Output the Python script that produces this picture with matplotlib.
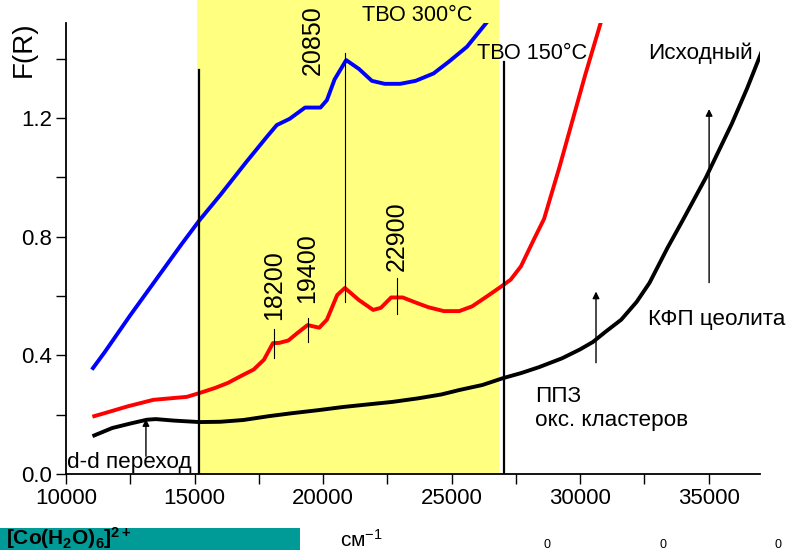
import numpy as np
import matplotlib
matplotlib.use("Agg")
import matplotlib.pyplot as plt
from matplotlib.patches import Rectangle
from matplotlib.ticker import MultipleLocator

plt.rcParams['font.family'] = ['Liberation Sans', 'DejaVu Sans']
plt.rcParams['mathtext.fontset'] = 'custom'
plt.rcParams['mathtext.rm'] = 'Liberation Sans'
plt.rcParams['mathtext.it'] = 'Liberation Sans:italic'
plt.rcParams['mathtext.bf'] = 'Liberation Sans:bold'

# спектры ЭСДО (F(R) от волнового числа, см-1)
x_300 = [11050, 11500, 12500, 13500, 14500, 15200, 16000, 17000, 17800, 18200, 18700,
         19300, 19900, 20150, 20450, 20900, 21400, 21900, 22400, 23000, 23600, 24300,
         24900, 25600, 26350]
y_300 = [0.357, 0.41, 0.535, 0.655, 0.775, 0.856, 0.94, 1.05, 1.135, 1.176, 1.197,
         1.235, 1.235, 1.26, 1.33, 1.395, 1.365, 1.325, 1.315, 1.315, 1.325, 1.35,
         1.39, 1.44, 1.52]

x_150 = [11100, 11500, 12400, 13400, 14700, 15200, 15800, 16300, 16800, 17300, 17700,
         18050, 18300, 18650, 19000, 19400, 19850, 20150, 20550, 20850, 21400, 21950,
         22250, 22650, 23100, 23600, 24100, 24700, 25300, 25800, 26400, 26900, 27300,
         27700, 28200, 28600, 29200, 29700, 30200, 30800]
y_150 = [0.195, 0.205, 0.228, 0.25, 0.26, 0.273, 0.29, 0.307, 0.33, 0.352, 0.385,
         0.441, 0.442, 0.45, 0.475, 0.502, 0.493, 0.52, 0.603, 0.627, 0.586, 0.553,
         0.56, 0.595, 0.595, 0.578, 0.562, 0.549, 0.549, 0.565, 0.6, 0.63, 0.655,
         0.7, 0.79, 0.86, 1.035, 1.19, 1.345, 1.52]

x_ish = [11100, 11800, 12500, 13150, 13500, 14200, 15200, 16000, 16900, 17900, 18800,
         19800, 20800, 21800, 22700, 23700, 24600, 25300, 26200, 27000, 27700, 28400,
         29300, 30000, 30500, 31000, 31600, 32200, 32700, 33400, 34000, 34900, 35900,
         36500, 37050]
y_ish = [0.13, 0.155, 0.17, 0.183, 0.185, 0.18, 0.175, 0.176, 0.182, 0.195, 0.205,
         0.215, 0.226, 0.235, 0.243, 0.255, 0.268, 0.283, 0.3, 0.323, 0.34, 0.36,
         0.39, 0.42, 0.445, 0.48, 0.52, 0.58, 0.644, 0.762, 0.856, 1.0, 1.18,
         1.3, 1.42]

# полосы поглощения: положение, низ и верх метки, подпись
peaks = [18100, 19400, 20850, 22880]
peak_lo = [0.39, 0.445, 0.58, 0.54]
peak_hi = [0.49, 0.525, 1.42, 0.66]
peak_txt = ["18200", "19400", "20850", "22900"]
peak_txt_x = [18100, 19400, 19600, 22880]
peak_txt_y = [0.52, 0.575, 1.345, 0.685]

fig = plt.figure(figsize=(7.88, 5.5), dpi=100)
ax = fig.add_axes([66/788, 76/550, 694/788, 451/550])

ax.set_xlim(10000, 37000)
ax.set_ylim(0, 1.52)

# жёлтая область
ax.add_patch(Rectangle((15100, 0), 26850 - 15100, 1.6, facecolor='#ffff80',
                       edgecolor='none', zorder=0, clip_on=False))

ax.plot(x_300, y_300, color='#0000ff', lw=2.8, zorder=3)
ax.plot(x_150, y_150, color='#ff0000', lw=2.8, zorder=3)
ax.plot(x_ish, y_ish, color='black', lw=2.8, zorder=3)

ax.plot([15180, 15180], [0, 1.36], color='black', lw=1.6, zorder=4)
ax.plot([27040, 27040], [0, 1.39], color='black', lw=1.6, zorder=4)

for p, lo, hi in zip(peaks, peak_lo, peak_hi):
    ax.plot([p, p], [lo, hi], color='black', lw=0.8, zorder=4)
for t, tx, ty in zip(peak_txt, peak_txt_x, peak_txt_y):
    ax.text(tx, ty, t, rotation=90, ha='center', va='bottom', fontsize=18, zorder=5)

# стрелки
for xa, y0, y1 in [(13110, 0.06, 0.185), (30620, 0.375, 0.615), (35020, 0.645, 1.23)]:
    ax.annotate('', xy=(xa, y1), xytext=(xa, y0),
                arrowprops=dict(arrowstyle='-|>', color='black', lw=1.0,
                                mutation_scale=10, shrinkA=0, shrinkB=0), zorder=5)

ax.text(21520, 1.545, "ТВО 300°С", fontsize=15.7, ha='left', va='center', clip_on=False)
ax.text(26000, 1.418, "ТВО 150°С", fontsize=15.7, ha='left', va='center')
ax.text(32650, 1.418, "Исходный", fontsize=16.2, ha='left', va='center')
ax.text(32650, 0.52, "КФП цеолита", fontsize=16.2, ha='left', va='center')
ax.text(28250, 0.22, "ППЗ\nокс. кластеров", fontsize=16.2, ha='left', va='center',
        linespacing=1.2)
ax.text(10040, 0.04, "d-d переход", fontsize=16.2, ha='left', va='center')

ax.spines['top'].set_visible(False)
ax.spines['right'].set_visible(False)
ax.spines['left'].set_linewidth(1.3)
ax.spines['bottom'].set_linewidth(1.3)

ax.xaxis.set_major_locator(MultipleLocator(5000))
ax.xaxis.set_minor_locator(MultipleLocator(2500))
ax.yaxis.set_major_locator(MultipleLocator(0.4))
ax.yaxis.set_minor_locator(MultipleLocator(0.2))
ax.yaxis.set_major_formatter(plt.FuncFormatter(lambda v, _: f"{v:.1f}"))
ax.tick_params(which='both', direction='out', length=7, width=1.0, labelsize=16)
ax.tick_params(axis='x', pad=3)
ax.tick_params(axis='y', pad=3)

fig.text(24/788, 1 - 49/550, "F(R)", rotation=90, ha='center', va='center', fontsize=20)

# нижняя полоса с формулой комплекса
fig.patches.append(Rectangle((0, 0), 300/788, 22/550, facecolor='#009b96',
                             edgecolor='none', transform=fig.transFigure, figure=fig))
fig.text(6/788, 5/550, r"$\mathbf{[Co(H_2O)_6]^{2+}}$", fontsize=15,
         ha='left', va='baseline')
fig.text(340/788, 3/550, "см$^{-1}$", fontsize=15, ha='left', va='baseline')
for xf in [547, 663, 778]:
    fig.text(xf/788, 2/550, "0", fontsize=9, ha='center', va='baseline')

fig.savefig("out.png", dpi=100)
